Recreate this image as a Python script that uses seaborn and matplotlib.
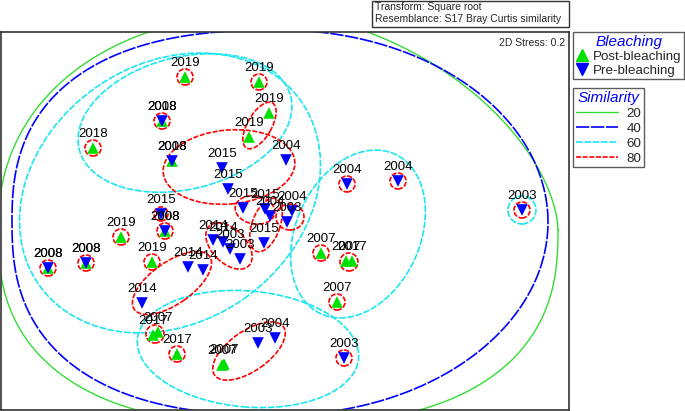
import numpy as np
import pandas as pd
import matplotlib
matplotlib.use("Agg")
import matplotlib.pyplot as plt
import seaborn as sns
from matplotlib.patches import Ellipse, Circle, Rectangle
from matplotlib.lines import Line2D

# ==================================================
# Data: nMDS ordination (coordinates)
# ==================================================

post_x = [185, 259, 269, 249, 93, 162, 172, 165, 121, 152, 48, 86,
          153, 158, 177, 222, 224, 321, 346, 352, 337]
post_y = [333, 328, 297, 273, 262, 289, 249, 179, 173, 148, 142, 147,
          75, 78, 56, 45, 46, 157, 149, 149, 108]
post_year = ["2019", "2019", "2019", "2019", "2018", "2018", "2018", "2008",
             "2019", "2019", "2008", "2008", "2017", "2007", "2017", "2007",
             "2007", "2007", "2007", "2017", "2007"]

pre_x = [162, 172, 222, 286, 228, 243, 265, 292, 270, 287, 264, 161, 165,
         48, 86, 213, 223, 230, 240, 188, 203, 142, 258, 275, 347, 398,
         344, 522]
pre_y = [289, 249, 242, 250, 221, 202, 201, 199, 194, 188, 167, 196, 179,
         142, 147, 170, 168, 161, 151, 143, 140, 107, 67, 72, 226, 229,
         52, 200]
pre_year = ["2008", "2008", "2015", "2004", "2015", "2015", "2015", "2004",
            "2004", "2003", "2015", "2015", "2008", "2008", "2008", "2014",
            "2014", "2003", "2003", "2014", "2014", "2014", "2003", "2004",
            "2004", "2004", "2003", "2003"]

# similarity contours
ring80_x = [185, 259, 93, 162, 161, 165, 121, 152, 48, 86, 155, 177, 321,
            349, 337, 344, 347, 398, 522]
ring80_y = [333, 328, 262, 289, 196, 179, 173, 148, 142, 147, 76, 56, 157,
            148, 108, 52, 226, 229, 200]
ring80_r = [8, 8, 8, 8, 7, 8, 8, 8, 8, 8, 9, 8, 8, 9, 8, 8, 8, 8, 8]

# (centre x, centre y, width, height, angle)
ell80 = [(259.5, 284.5, 52, 24, 60), (229, 243, 132, 74, 5),
         (255, 200, 40, 28, -10), (266, 185, 56, 28, 70),
         (290, 193, 28, 26, 0), (229, 164, 56, 34, -45),
         (172, 127, 92, 42, 35), (249, 59, 84, 40, 35)]
ell60 = [(185, 287, 218, 132, 14), (170, 217, 320, 258, 35),
         (358, 176, 176, 124, 65), (248, 61, 222, 116, -5),
         (522, 200, 28, 28, 0)]
# (cx, cy, a_left, a_right, b_top, b_bottom, n_tr, n_tl, n_bl, n_br)
shape40 = (280, 188, 268, 268, 192, 193, 2.0, 2.5, 2.5, 2.0)
shape20 = (278, 180, 280, 280, 217, 195, 1.7, 2.2, 2.5, 2.5)

GREEN = "#00e000"
BLUE = "#0000ff"
CYAN = "#19e6f0"
RED = "#ff0000"
LGREEN = "#33dd33"

LS40 = (0, (8, 1))
LS60 = (0, (4, 1))
LS80 = (0, (3, 1))


def egg(cx, cy, al, ar, bt, bb, ntr, ntl, nbl, nbr):
    t = np.linspace(0, 2 * np.pi, 1441)
    c, s = np.cos(t), np.sin(t)
    n = np.where(c >= 0, np.where(s >= 0, ntr, nbr), np.where(s >= 0, ntl, nbl))
    a = np.where(c >= 0, ar, al)
    b = np.where(s >= 0, bt, bb)
    return (cx + a * np.sign(c) * np.abs(c) ** (2 / n),
            cy + b * np.sign(s) * np.abs(s) ** (2 / n))


df = pd.concat([
    pd.DataFrame({"MDS1": post_x, "MDS2": post_y, "Year": post_year,
                  "Bleaching": "Post-bleaching"}),
    pd.DataFrame({"MDS1": pre_x, "MDS2": pre_y, "Year": pre_year,
                  "Bleaching": "Pre-bleaching"}),
], ignore_index=True)

# ==================================================
# Plot
# ==================================================

sns.set_theme(style="white")
plt.rcParams["font.family"] = ["Liberation Sans", "DejaVu Sans"]

fig = plt.figure(figsize=(6.85, 4.11), dpi=100)
ax = fig.add_axes([1 / 685, 1 / 411, 568 / 685, 378 / 411])

# 20 / 40 contours
x20, y20 = egg(*shape20)
ax.plot(x20, y20, color=LGREEN, lw=1.0)
x40, y40 = egg(*shape40)
ax.plot(x40, y40, color=BLUE, lw=1.2, ls=LS40)

for cx, cy, w, h, ang in ell60:
    ax.add_patch(Ellipse((cx, cy), w, h, angle=ang, fill=False,
                         ec=CYAN, lw=1.2, ls=LS60))
for cx, cy, w, h, ang in ell80:
    ax.add_patch(Ellipse((cx, cy), w, h, angle=ang, fill=False,
                         ec=RED, lw=1.2, ls=LS80))
for cx, cy, r in zip(ring80_x, ring80_y, ring80_r):
    ax.add_patch(Circle((cx, cy), r, fill=False, ec=RED, lw=1.2, ls=LS80))

sns.scatterplot(
    data=df, x="MDS1", y="MDS2",
    hue="Bleaching", style="Bleaching",
    markers={"Post-bleaching": "^", "Pre-bleaching": "v"},
    palette={"Post-bleaching": GREEN, "Pre-bleaching": BLUE},
    s=70, linewidth=0, legend=False, ax=ax, zorder=3
)

for _, row in df.iterrows():
    ax.annotate(row["Year"], (row["MDS1"], row["MDS2"]), xytext=(0, 8),
                textcoords="offset points", ha="center", va="baseline",
                fontsize=9.5, color="black", zorder=4)

ax.set_xlim(1, 569)
ax.set_ylim(0, 378)
ax.set_xticks([])
ax.set_yticks([])
ax.set_xlabel("")
ax.set_ylabel("")
for sp in ax.spines.values():
    sp.set_color("#333333")
    sp.set_linewidth(1.2)

ax.text(0.993, 0.985, "2D Stress: 0.2", transform=ax.transAxes,
        ha="right", va="top", fontsize=7.5)

# header box
fig.patches.append(Rectangle((372 / 685, 384 / 411), 197 / 685, 26 / 411,
                             transform=fig.transFigure, fill=False,
                             ec="#333333", lw=1))
fig.text(375 / 685, 1 - 2 / 411,
         "Transform: Square root\nResemblance: S17 Bray Curtis similarity",
         ha="left", va="top", fontsize=7.5, linespacing=1.25)

# legends
h1 = [Line2D([], [], marker="^", color=GREEN, ls="none", ms=9),
      Line2D([], [], marker="v", color=BLUE, ls="none", ms=9)]
leg1 = fig.legend(h1, ["Post-bleaching", "Pre-bleaching"], title="Bleaching",
                  loc="upper left", bbox_to_anchor=(573 / 685, 1 - 32 / 411),
                  fontsize=9.6, title_fontsize=11, frameon=True,
                  fancybox=False, edgecolor="#333333", borderpad=0.2,
                  labelspacing=0.12, handlelength=1.0, handletextpad=0.3,
                  borderaxespad=0)
leg1.get_title().set_color(BLUE)
leg1.get_title().set_style("italic")
leg1.get_frame().set_linewidth(1)

h2 = [Line2D([], [], color=LGREEN, lw=1.0),
      Line2D([], [], color=BLUE, lw=1.2, ls=LS40),
      Line2D([], [], color=CYAN, lw=1.2, ls=LS60),
      Line2D([], [], color=RED, lw=1.2, ls=LS80)]
leg2 = fig.legend(h2, ["20", "40", "60", "80"], title="Similarity",
                  loc="upper left", bbox_to_anchor=(573 / 685, 1 - 88 / 411),
                  fontsize=9.6, title_fontsize=11, frameon=True,
                  fancybox=False, edgecolor="#333333", borderpad=0.2,
                  labelspacing=0.2, handlelength=3.2, handletextpad=0.6,
                  borderaxespad=0)
leg2.get_title().set_color(BLUE)
leg2.get_title().set_style("italic")
leg2.get_frame().set_linewidth(1)

fig.savefig("out.png", dpi=100)
print("saved out.png")
